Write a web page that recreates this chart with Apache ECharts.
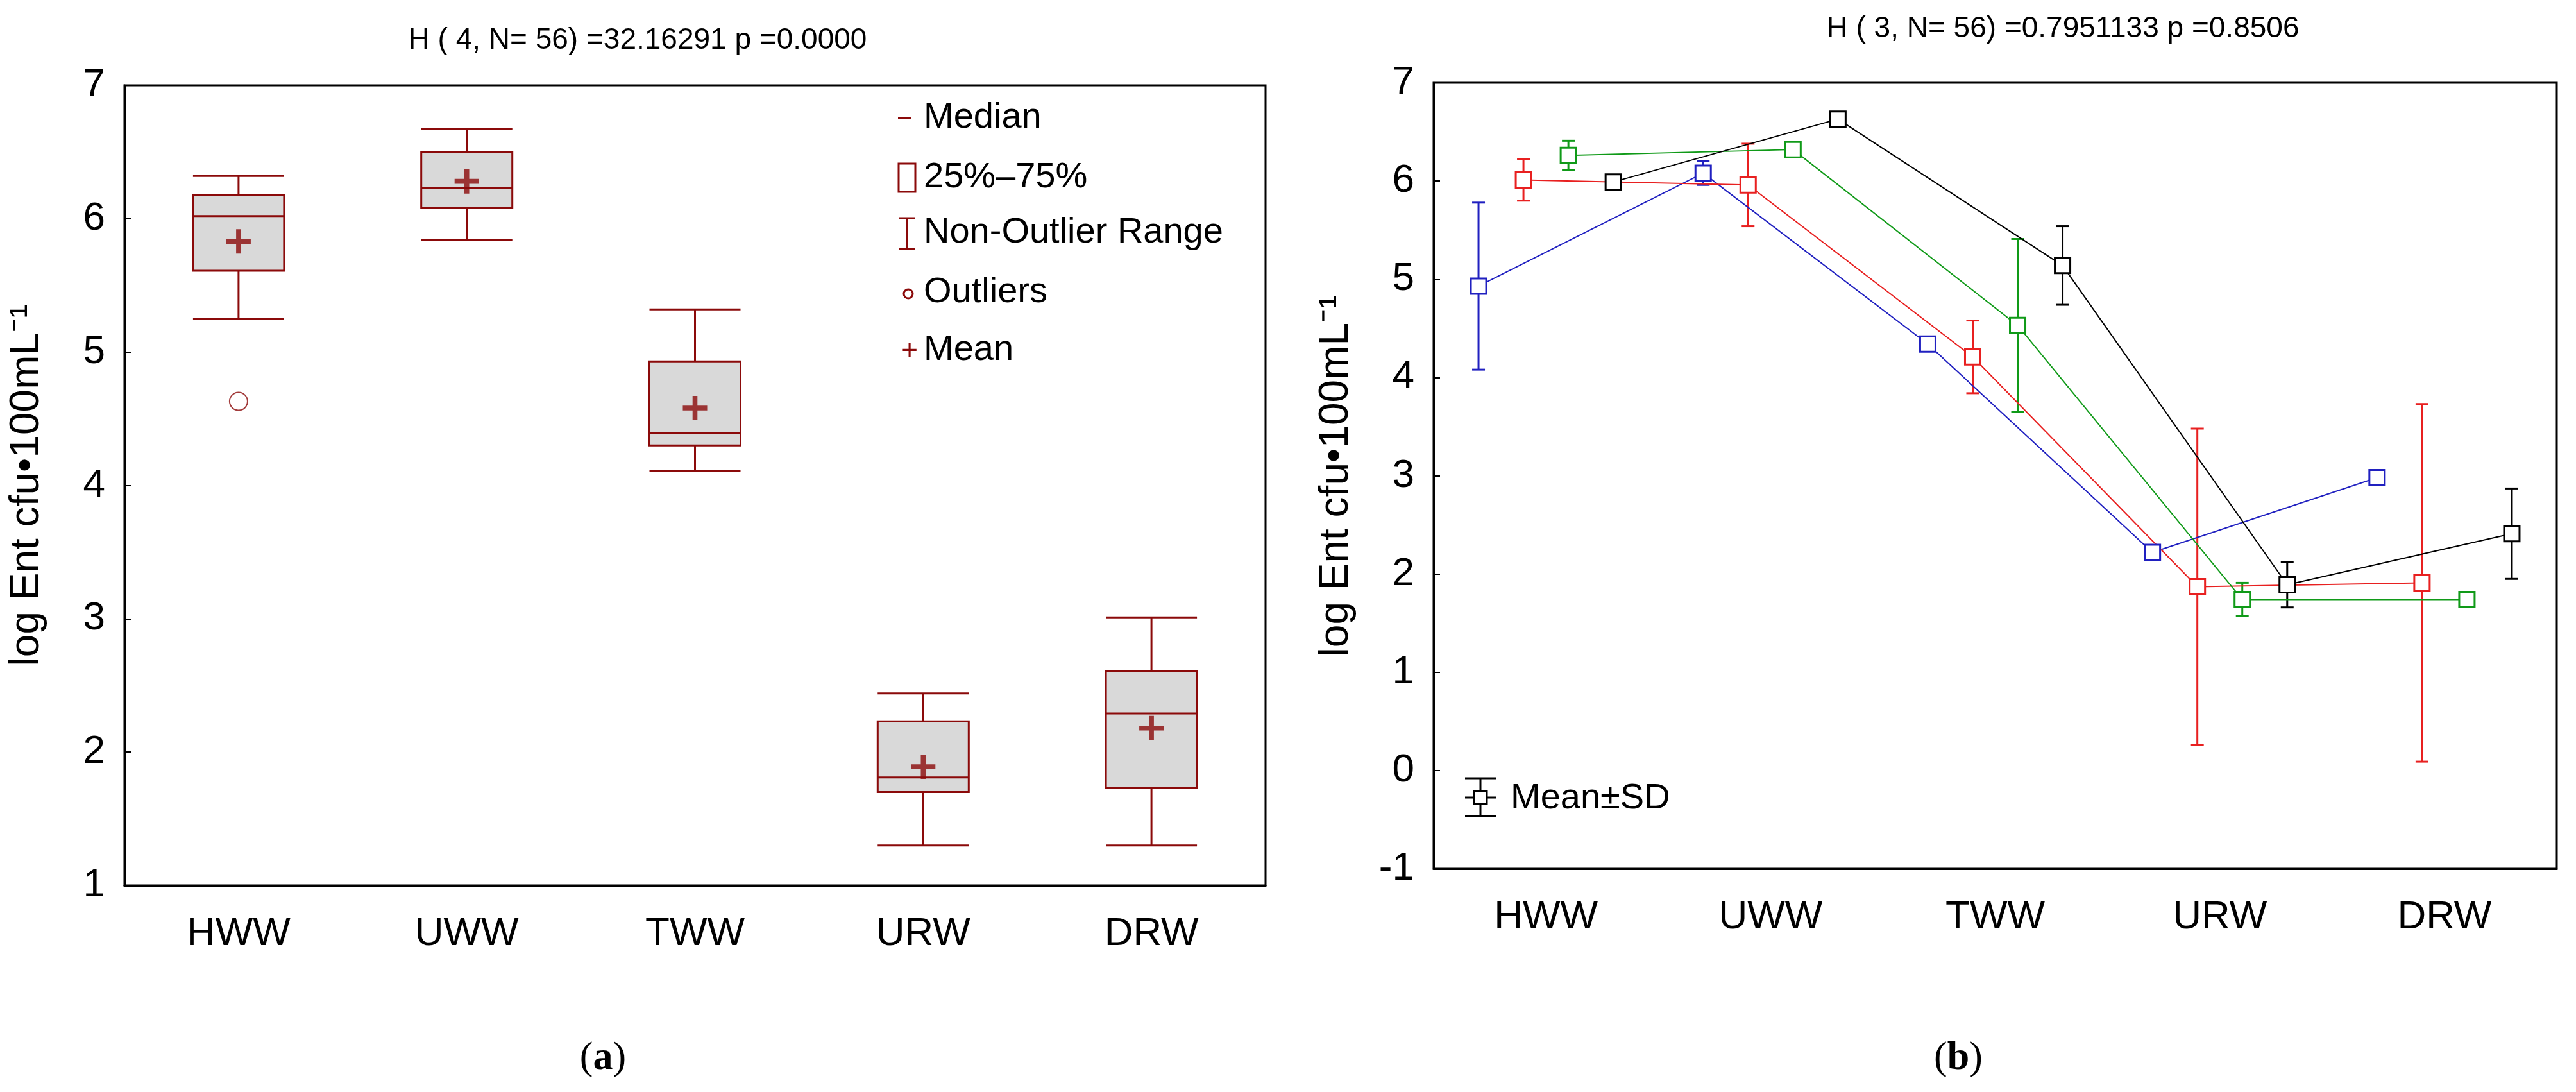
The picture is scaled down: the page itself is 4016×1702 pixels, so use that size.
<!DOCTYPE html>
<html>
<head>
<meta charset="utf-8">
<script src="https://cdn.jsdelivr.net/npm/echarts@6/dist/echarts.min.js"></script>
<style>html,body{margin:0;padding:0;background:#fff}#c{width:4016px;height:1702px}</style>
</head>
<body>
<div id="c"></div>
<script>
var sites = ['HWW', 'UWW', 'TWW', 'URW', 'DRW'];
// box plot: [min, Q1, median, Q3, max]
var boxes = [
	[5.25, 5.61, 6.02, 6.18, 6.32],
	[5.84, 6.08, 6.23, 6.50, 6.67],
	[4.11, 4.30, 4.39, 4.93, 5.32],
	[1.30, 1.70, 1.81, 2.23, 2.44],
	[1.30, 1.73, 2.29, 2.61, 3.01]
];
var means = [5.83, 6.28, 4.58, 1.89, 2.18];
var outliers = [[0, 4.63]];

// right panel: mean and SD per group
var offsets = [-0.3, -0.1, 0.1, 0.3];
var colors = ['#2020c0', '#e82020', '#109a18', '#000000'];
var meanB = [4.93, 6.08, 4.34, 2.22, 2.98];
var sdB = [0.85, 0.12, 0.03, 0.04, 0.04];
var meanR = [6.01, 5.96, 4.21, 1.87, 1.91];
var sdR = [0.21, 0.42, 0.37, 1.61, 1.82];
var meanG = [6.26, 6.32, 4.53, 1.74, 1.74];
var sdG = [0.15, 0.07, 0.88, 0.17, 0.03];
var meanK = [5.99, 6.63, 5.14, 1.89, 2.41];
var sdK = [0.03, 0.05, 0.40, 0.23, 0.46];
var groups = [[meanB, sdB], [meanR, sdR], [meanG, sdG], [meanK, sdK]];

var chart = echarts.init(document.getElementById('c'));
var dark = '#8b0a0a';
var font = 'Arial, Liberation Sans, sans-serif';
var plus = 'path://M-1.2,-6H1.2V-1.2H6V1.2H1.2V6H-1.2V1.2H-6V-1.2H-1.2Z';

function catAxis(grid) {
	return {
		type: 'category', gridIndex: grid, data: sites,
		axisLine: {onZero: false, lineStyle: {color: '#000', width: 3}},
		axisTick: {inside: true, alignWithLabel: true, length: 10, lineStyle: {color: '#000', width: 2}},
		axisLabel: {fontSize: 62, color: '#000', fontFamily: font, margin: 45}
	};
}
function valAxis(grid, min, max) {
	return {
		type: 'value', gridIndex: grid, min: min, max: max, interval: 1,
		name: 'log Ent cfu\u2022100mL\u207B\u00B9', nameLocation: 'middle', nameGap: 120,
		nameTextStyle: {fontSize: 64, color: '#000', fontFamily: font},
		splitLine: {show: false},
		axisLine: {show: true, onZero: false, lineStyle: {color: '#000', width: 3}},
		axisTick: {show: true, inside: true, length: 10, lineStyle: {color: '#000', width: 2}},
		axisLabel: {fontSize: 62, color: '#000', fontFamily: font, margin: 30}
	};
}

var series = [
	{
		type: 'boxplot', xAxisIndex: 0, yAxisIndex: 0, data: boxes, boxWidth: [142, 142],
		itemStyle: {color: '#d9d9d9', borderColor: dark, borderWidth: 3}
	},
	{
		type: 'scatter', xAxisIndex: 0, yAxisIndex: 0, data: outliers,
		symbol: 'emptyCircle', symbolSize: 28, itemStyle: {color: dark, borderWidth: 3}
	},
	{
		type: 'scatter', xAxisIndex: 0, yAxisIndex: 0, data: means.map(function(v, i) { return [i, v]; }),
		symbol: plus, symbolSize: 38, itemStyle: {color: dark}
	}
];

groups.forEach(function(g, k) {
	var pts = g[0].map(function(v, i) { return [i + offsets[k], v, g[1][i]]; });
	series.push({
		type: 'custom', xAxisIndex: 2, yAxisIndex: 1, data: pts, z: 3,
		renderItem: function(params, api) {
			var x = api.value(0), m = api.value(1), s = api.value(2);
			var top = api.coord([x, m + s]), bot = api.coord([x, m - s]);
			var st = {stroke: colors[k], lineWidth: 3};
			return {type: 'group', children: [
				{type: 'line', shape: {x1: top[0], y1: top[1], x2: bot[0], y2: bot[1]}, style: st},
				{type: 'line', shape: {x1: top[0] - 10, y1: top[1], x2: top[0] + 10, y2: top[1]}, style: st},
				{type: 'line', shape: {x1: bot[0] - 10, y1: bot[1], x2: bot[0] + 10, y2: bot[1]}, style: st}
			]};
		}
	});
	series.push({
		type: 'line', xAxisIndex: 2, yAxisIndex: 1, data: pts, z: 4,
		symbol: 'rect', symbolSize: 24, showAllSymbol: true,
		lineStyle: {color: colors[k], width: 2},
		itemStyle: {color: '#fff', borderColor: colors[k], borderWidth: 3}
	});
});

var legendItems = ['Median', '25%\u201375%', 'Non-Outlier Range', 'Outliers', 'Mean'];
var legendY = [184, 277, 363, 456, 546];
var serif = 'Liberation Serif, serif';
var graphic = [
	{type: 'text', x: 994, y: 63, style: {text: 'H ( 4, N= 56) =32.16291 p =0.0000', fontSize: 46, fill: '#000', fontFamily: font, align: 'center', verticalAlign: 'middle'}},
	{type: 'text', x: 3216, y: 45, style: {text: 'H ( 3, N= 56) =0.7951133 p =0.8506', fontSize: 46, fill: '#000', fontFamily: font, align: 'center', verticalAlign: 'middle'}},
	{type: 'text', x: 940, y: 1650, style: {rich: {b: {fontWeight: 'bold', fontSize: 62, fontFamily: serif}, n: {fontSize: 62, fontFamily: serif}}, text: '{n|(}{b|a}{n|)}', align: 'center', verticalAlign: 'middle'}},
	{type: 'text', x: 3053, y: 1650, style: {rich: {b: {fontWeight: 'bold', fontSize: 62, fontFamily: serif}, n: {fontSize: 62, fontFamily: serif}}, text: '{n|(}{b|b}{n|)}', align: 'center', verticalAlign: 'middle'}},
	// legend left
	{type: 'line', shape: {x1: 1400, y1: 184, x2: 1420, y2: 184}, style: {stroke: dark, lineWidth: 3}},
	{type: 'rect', shape: {x: 1401, y: 255, width: 26, height: 44}, style: {fill: '#fff', stroke: dark, lineWidth: 3}},
	{type: 'line', shape: {x1: 1414, y1: 340, x2: 1414, y2: 388}, style: {stroke: dark, lineWidth: 3}},
	{type: 'line', shape: {x1: 1402, y1: 340, x2: 1426, y2: 340}, style: {stroke: dark, lineWidth: 3}},
	{type: 'line', shape: {x1: 1402, y1: 388, x2: 1426, y2: 388}, style: {stroke: dark, lineWidth: 3}},
	{type: 'circle', shape: {cx: 1416, cy: 458, r: 7}, style: {fill: '#fff', stroke: dark, lineWidth: 3}},
	{type: 'text', x: 1418, y: 548, style: {text: '+', fontSize: 44, fill: dark, fontFamily: font, align: 'center', verticalAlign: 'middle'}},
	// legend right
	{type: 'line', shape: {x1: 2308, y1: 1213, x2: 2308, y2: 1272}, style: {stroke: '#000', lineWidth: 3}},
	{type: 'line', shape: {x1: 2284, y1: 1213, x2: 2332, y2: 1213}, style: {stroke: '#000', lineWidth: 3}},
	{type: 'line', shape: {x1: 2284, y1: 1272, x2: 2332, y2: 1272}, style: {stroke: '#000', lineWidth: 3}},
	{type: 'line', shape: {x1: 2284, y1: 1243, x2: 2332, y2: 1243}, style: {stroke: '#000', lineWidth: 3}},
	{type: 'rect', shape: {x: 2298, y: 1233, width: 20, height: 20}, style: {fill: '#fff', stroke: '#000', lineWidth: 3}},
	{type: 'text', x: 2355, y: 1245, style: {text: 'Mean\u00B1SD', fontSize: 56, fill: '#000', fontFamily: font, verticalAlign: 'middle'}}
];
legendItems.forEach(function(t, i) {
	graphic.push({type: 'text', x: 1440, y: legendY[i], style: {text: t, fontSize: 56, fill: '#000', fontFamily: font, verticalAlign: 'middle'}});
});

var option = {
	animation: false,
	backgroundColor: '#fff',
	grid: [
		{left: 194, top: 133, width: 1779, height: 1247, show: true, borderColor: '#000', borderWidth: 3, backgroundColor: 'transparent'},
		{left: 2235, top: 129, width: 1751, height: 1225, show: true, borderColor: '#000', borderWidth: 3, backgroundColor: 'transparent'}
	],
	xAxis: [
		catAxis(0),
		catAxis(1),
		{type: 'value', gridIndex: 1, min: -0.5, max: 4.5, show: false}
	],
	yAxis: [valAxis(0, 1, 7), valAxis(1, -1, 7)],
	series: series,
	graphic: graphic
};
chart.setOption(option);
</script>
</body>
</html>
